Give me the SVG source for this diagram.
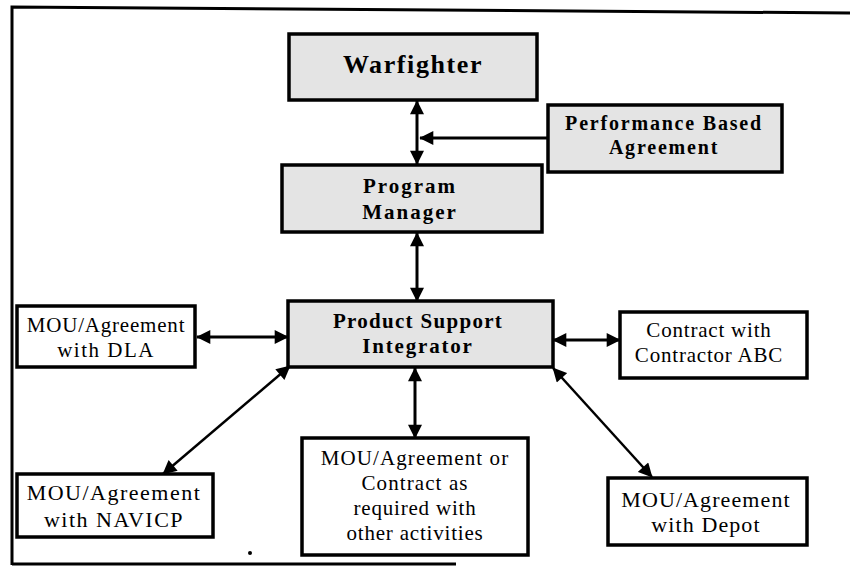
<svg xmlns="http://www.w3.org/2000/svg" width="850" height="574" viewBox="0 0 850 574">
<style>
.bg{fill:#ffffff}
.box{fill:#ffffff;stroke:#000;stroke-width:3.5}
.shade{fill:#e4e4e4;stroke:#000;stroke-width:3.5}
.tb{font-family:"Liberation Serif","Times New Roman",serif;font-weight:bold;fill:#000;text-anchor:middle}
.tr{font-family:"Liberation Serif","Times New Roman",serif;fill:#000;text-anchor:middle}
.ln{stroke:#000;stroke-width:3;fill:none}
.dg{stroke:#000;stroke-width:2.5;fill:none}
.frame{stroke:#000;stroke-width:3;fill:none}
</style>
<defs>
<marker id="ah" viewBox="0 0 10 10" refX="9.5" refY="5" markerUnits="userSpaceOnUse" markerWidth="15" markerHeight="14" orient="auto-start-reverse">
<path d="M0,0 L10,5 L0,10 z" fill="#000"/>
</marker>
</defs>
<rect class="bg" x="0" y="0" width="850" height="574"/>
<g id="frame">
<path class="frame" d="M12,565 L12,7 L850,13"/>
<path class="frame" d="M12,564 L456,564"/>
<circle cx="250" cy="553" r="2" fill="#000"/>
</g>
<g id="connectors">
<path class="ln" d="M417,101 V164" marker-start="url(#ah)" marker-end="url(#ah)"/>
<path class="ln" d="M547,138 H420" marker-end="url(#ah)"/>
<path class="ln" d="M417,233 V301" marker-start="url(#ah)" marker-end="url(#ah)"/>
<path class="ln" d="M197,337 H288" marker-start="url(#ah)" marker-end="url(#ah)"/>
<path class="ln" d="M553,340 H620" marker-start="url(#ah)" marker-end="url(#ah)"/>
<path class="ln" d="M415,368 V438" marker-start="url(#ah)" marker-end="url(#ah)"/>
<path class="dg" d="M290,366 L163,474" marker-start="url(#ah)" marker-end="url(#ah)"/>
<path class="dg" d="M553,368 L652,477" marker-start="url(#ah)" marker-end="url(#ah)"/>
</g>
<g id="warfighter">
<rect class="shade" x="289" y="34" width="248" height="66"/>
<text class="tb" x="413" y="73" font-size="26" letter-spacing="1.6">Warfighter</text>
</g>
<g id="pba">
<rect class="shade" x="548" y="105" width="234" height="67"/>
<text class="tb" x="664" y="130" font-size="20" letter-spacing="1.8">Performance Based</text>
<text class="tb" x="664" y="154" font-size="20" letter-spacing="1.8">Agreement</text>
</g>
<g id="program-manager">
<rect class="shade" x="282" y="165" width="260" height="67"/>
<text class="tb" x="410" y="193" font-size="21" letter-spacing="2">Program</text>
<text class="tb" x="410" y="219" font-size="21" letter-spacing="2">Manager</text>
</g>
<g id="psi">
<rect class="shade" x="288" y="301" width="265" height="66"/>
<text class="tb" x="418" y="328" font-size="21" letter-spacing="1.3">Product Support</text>
<text class="tb" x="418" y="353" font-size="21" letter-spacing="1.8">Integrator</text>
</g>
<g id="dla">
<rect class="box" x="17" y="306" width="178" height="61"/>
<text class="tr" x="106" y="332" font-size="21" letter-spacing="0.8">MOU/Agreement</text>
<text class="tr" x="106" y="357" font-size="21" letter-spacing="1.5">with DLA</text>
</g>
<g id="abc">
<rect class="box" x="620" y="312" width="187" height="66"/>
<text class="tr" x="709" y="337" font-size="21" letter-spacing="0.8">Contract with</text>
<text class="tr" x="709" y="362" font-size="21" letter-spacing="0.8">Contractor ABC</text>
</g>
<g id="navicp">
<rect class="box" x="17" y="474" width="196" height="63"/>
<text class="tr" x="114" y="500" font-size="22" letter-spacing="1.5">MOU/Agreement</text>
<text class="tr" x="114" y="527" font-size="22" letter-spacing="1.5">with NAVICP</text>
</g>
<g id="other">
<rect class="box" x="302" y="438" width="226" height="117"/>
<text class="tr" x="415" y="465" font-size="21" letter-spacing="1.1">MOU/Agreement or</text>
<text class="tr" x="415" y="490" font-size="21" letter-spacing="1.1">Contract as</text>
<text class="tr" x="415" y="515" font-size="21" letter-spacing="0.8">required with</text>
<text class="tr" x="415" y="540" font-size="21" letter-spacing="0.8">other activities</text>
</g>
<g id="depot">
<rect class="box" x="608" y="478" width="199" height="67"/>
<text class="tr" x="706" y="507" font-size="22" letter-spacing="1.1">MOU/Agreement</text>
<text class="tr" x="706" y="532" font-size="22" letter-spacing="1.1">with Depot</text>
</g>
</svg>
